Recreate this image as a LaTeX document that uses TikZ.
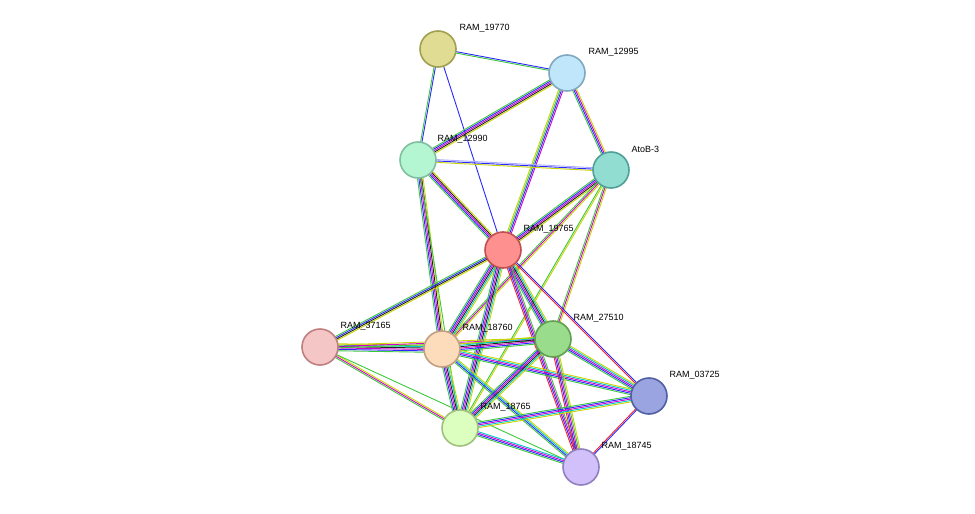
\documentclass[tikz,border=0pt]{standalone}
\usepackage{fontspec}
\setmainfont{Liberation Sans}
\usetikzlibrary{calc,backgrounds}

\definecolor{nb}{HTML}{3CC83C}
\definecolor{tm}{HTML}{C8D400}
\definecolor{ex}{HTML}{D000D0}
\definecolor{db}{HTML}{00C8C8}
\definecolor{co}{HTML}{2828FF}
\definecolor{hm}{HTML}{AAAAFF}
\definecolor{fu}{HTML}{FF2020}
\definecolor{ce}{HTML}{202020}

% edge from #1 to #2 with #3 parallel lines in colours #4
\newcommand{\edge}[4]{%
  \foreach \c [count=\i] in {#4} {%
    \pgfmathsetmacro{\o}{(\i-(#3+1)/2)*1.4}
    \draw[\c,line width=0.9pt] ($(#1)!\o pt!90:(#2)$) -- ($(#2)!\o pt!-90:(#1)$);
  }}

\begin{document}
\begin{tikzpicture}[x=1pt,y=-1pt,
    prot/.style={circle,minimum size=36pt,inner sep=0pt,line width=1.6pt},
    lab/.style={anchor=west,font=\fontsize{9}{10}\selectfont}
  ]
  \useasboundingbox (0,0) rectangle (975,514);

  % --- proteins
  \node[prot,fill={rgb,255:red,224;green,220;blue,148},draw={rgb,255:red,160;green,160;blue,80}] (n19770) at (438,49) {};
  \node[prot,fill={rgb,255:red,191;green,230;blue,251},draw={rgb,255:red,128;green,168;blue,192}] (n12995) at (567,73) {};
  \node[prot,fill={rgb,255:red,180;green,245;blue,210},draw={rgb,255:red,128;green,192;blue,160}] (n12990) at (418,160) {};
  \node[prot,fill={rgb,255:red,146;green,221;blue,210},draw={rgb,255:red,80;green,160;blue,152}] (atob) at (611,170) {};
  \node[prot,fill={rgb,255:red,255;green,144;blue,144},draw={rgb,255:red,192;green,80;blue,80}] (n19765) at (503,250) {};
  \node[prot,fill={rgb,255:red,245;green,198;blue,198},draw={rgb,255:red,192;green,128;blue,128}] (n37165) at (320,347) {};
  \node[prot,fill={rgb,255:red,253;green,220;blue,188},draw={rgb,255:red,192;green,160;blue,128}] (n18760) at (442,349) {};
  \node[prot,fill={rgb,255:red,152;green,220;blue,140},draw={rgb,255:red,96;green,160;blue,80}] (n27510) at (553,339) {};
  \node[prot,fill={rgb,255:red,154;green,164;blue,224},draw={rgb,255:red,80;green,96;blue,160}] (n03725) at (649,396) {};
  \node[prot,fill={rgb,255:red,220;green,255;blue,192},draw={rgb,255:red,160;green,192;blue,128}] (n18765) at (460,428) {};
  \node[prot,fill={rgb,255:red,210;green,192;blue,250},draw={rgb,255:red,144;green,128;blue,192}] (n18745) at (581,467) {};

  % --- labels
  \node[lab] at ($(n19770)+(18,-21)$) {RAM\_19770};
  \node[lab] at ($(n12995)+(18,-21)$) {RAM\_12995};
  \node[lab] at ($(n12990)+(16,-21)$) {RAM\_12990};
  \node[lab] at ($(atob)+(17,-21)$) {AtoB-3};
  \node[lab] at ($(n19765)+(17,-21)$) {RAM\_19765};
  \node[lab] at ($(n37165)+(17,-21)$) {RAM\_37165};
  \node[lab] at ($(n18760)+(17,-21)$) {RAM\_18760};
  \node[lab] at ($(n27510)+(17,-21)$) {RAM\_27510};
  \node[lab] at ($(n03725)+(17,-21)$) {RAM\_03725};
  \node[lab] at ($(n18765)+(17,-21)$) {RAM\_18765};
  \node[lab] at ($(n18745)+(17,-21)$) {RAM\_18745};

  % --- interactions
  \begin{pgfonlayer}{background}
    \edge{n19770}{n12995}{2}{nb,co}
    \edge{n19770}{n12990}{2}{nb,co}
    \edge{n19770}{n19765}{1}{co}
    \edge{n12995}{n12990}{5}{nb,co,ex,ce,tm}
    \edge{n12995}{atob}{4}{nb,co,ex,tm}
    \edge{n12995}{n19765}{4}{tm,nb,co,ex}
    \edge{n12990}{atob}{3}{tm,co,hm}
    \edge{n12990}{n19765}{5}{nb,co,ex,ce,tm}
    \edge{n12990}{n18760}{5}{nb,co,ex,ce,tm}
    \edge{n12990}{n18765}{1}{nb}
    \edge{atob}{n19765}{5}{nb,co,ex,ce,tm}
    \edge{atob}{n18760}{3}{nb,ex,tm}
    \edge{atob}{n27510}{3}{nb,ex,tm}
    \edge{atob}{n18765}{2}{nb,tm}
    \edge{n19765}{n37165}{4}{nb,co,ce,tm}
    \edge{n19765}{n18760}{6}{nb,co,ex,ce,db,tm}
    \edge{n19765}{n27510}{6}{nb,co,ex,ce,db,tm}
    \edge{n19765}{n03725}{2}{fu,co}
    \edge{n19765}{n18765}{6}{nb,co,ex,ce,db,tm}
    \edge{n19765}{n18745}{4}{fu,co,ex,nb}
    \edge{n37165}{n18760}{6}{nb,co,ex,ce,db,tm}
    \edge{n37165}{n27510}{3}{nb,ex,tm}
    \edge{n37165}{n18765}{3}{nb,ex,tm}
    \edge{n37165}{n18745}{1}{nb}
    \edge{n18760}{n27510}{6}{nb,co,ex,ce,db,tm}
    \edge{n18760}{n03725}{5}{nb,co,ex,db,tm}
    \edge{n18760}{n18765}{6}{nb,co,ex,ce,db,tm}
    \edge{n18760}{n18745}{4}{nb,co,db,tm}
    \edge{n27510}{n03725}{5}{nb,co,ex,db,tm}
    \edge{n27510}{n18765}{6}{nb,co,ex,ce,db,tm}
    \edge{n27510}{n18745}{5}{fu,co,ex,nb,tm}
    \edge{n03725}{n18765}{5}{nb,co,ex,db,tm}
    \edge{n03725}{n18745}{2}{fu,co}
    \edge{n18765}{n18745}{4}{nb,co,ex,db}
  \end{pgfonlayer}
\end{tikzpicture}
\end{document}
